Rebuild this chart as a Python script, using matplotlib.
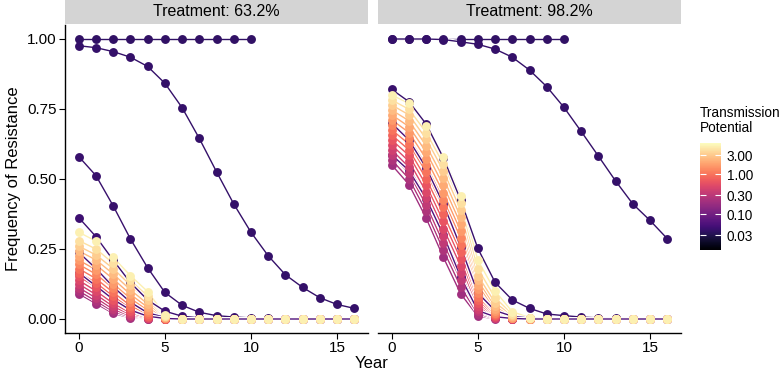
import matplotlib
matplotlib.use("Agg")
import matplotlib.pyplot as plt
from matplotlib.colors import LogNorm
import matplotlib.colorbar as mcolorbar

plt.rcParams['font.family'] = ['Liberation Sans', 'DejaVu Sans']

years = list(range(17))

# transmission potential for the bundle of lines (dark -> light)
bundle_tp = [0.2, 0.25, 0.32, 0.4, 0.5, 0.63, 0.8, 1.0, 1.26, 1.6, 2.0, 2.5, 3.2, 4.0, 5.0]

# ---- Treatment 63.2% ----
left_flat = [1.0, 1.0, 1.0, 1.0, 1.0, 1.0, 1.0, 1.0, 1.0, 1.0, 1.0]
left_slow = [0.976, 0.969, 0.955, 0.935, 0.902, 0.842, 0.755, 0.645, 0.526, 0.411, 0.310,
             0.226, 0.158, 0.113, 0.076, 0.052, 0.038]
left_mid = [0.580, 0.512, 0.404, 0.286, 0.183, 0.095, 0.049, 0.024, 0.012, 0.007, 0.004,
            0.002, 0.001, 0.0, 0.0, 0.0, 0.0]
left_low = [0.362, 0.294, 0.210, 0.130, 0.068, 0.028, 0.010, 0.004, 0.001, 0.0, 0.0,
            0.0, 0.0, 0.0, 0.0, 0.0, 0.0]
left_thin1 = [0.238, 0.180, 0.115, 0.060, 0.022, 0.006, 0.001, 0.0, 0.0, 0.0, 0.0,
              0.0, 0.0, 0.0, 0.0, 0.0, 0.0]
left_thin2 = [0.165, 0.118, 0.070, 0.032, 0.010, 0.002, 0.0, 0.0, 0.0, 0.0, 0.0,
              0.0, 0.0, 0.0, 0.0, 0.0, 0.0]
left_bundle = [
    [0.090, 0.055, 0.020, 0.004, 0.001, 0, 0, 0, 0, 0, 0, 0, 0, 0, 0, 0, 0],
    [0.100, 0.064, 0.027, 0.007, 0.001, 0, 0, 0, 0, 0, 0, 0, 0, 0, 0, 0, 0],
    [0.112, 0.075, 0.035, 0.011, 0.002, 0, 0, 0, 0, 0, 0, 0, 0, 0, 0, 0, 0],
    [0.125, 0.087, 0.045, 0.016, 0.003, 0, 0, 0, 0, 0, 0, 0, 0, 0, 0, 0, 0],
    [0.138, 0.100, 0.056, 0.022, 0.005, 0, 0, 0, 0, 0, 0, 0, 0, 0, 0, 0, 0],
    [0.152, 0.114, 0.068, 0.029, 0.008, 0.001, 0, 0, 0, 0, 0, 0, 0, 0, 0, 0, 0],
    [0.166, 0.129, 0.081, 0.038, 0.012, 0.001, 0, 0, 0, 0, 0, 0, 0, 0, 0, 0, 0],
    [0.180, 0.144, 0.095, 0.048, 0.017, 0.002, 0, 0, 0, 0, 0, 0, 0, 0, 0, 0, 0],
    [0.195, 0.160, 0.110, 0.060, 0.024, 0.003, 0, 0, 0, 0, 0, 0, 0, 0, 0, 0, 0],
    [0.210, 0.176, 0.126, 0.073, 0.032, 0.004, 0, 0, 0, 0, 0, 0, 0, 0, 0, 0, 0],
    [0.226, 0.193, 0.143, 0.088, 0.042, 0.006, 0, 0, 0, 0, 0, 0, 0, 0, 0, 0, 0],
    [0.243, 0.211, 0.161, 0.104, 0.054, 0.008, 0.001, 0, 0, 0, 0, 0, 0, 0, 0, 0, 0],
    [0.260, 0.229, 0.180, 0.121, 0.067, 0.010, 0.001, 0, 0, 0, 0, 0, 0, 0, 0, 0, 0],
    [0.280, 0.250, 0.199, 0.138, 0.082, 0.012, 0.001, 0, 0, 0, 0, 0, 0, 0, 0, 0, 0],
    [0.310, 0.278, 0.220, 0.155, 0.098, 0.015, 0.001, 0, 0, 0, 0, 0, 0, 0, 0, 0, 0],
]

# ---- Treatment 98.2% ----
right_flat = [1.0, 1.0, 1.0, 1.0, 1.0, 1.0, 1.0, 1.0, 1.0, 1.0, 1.0]
right_slow = [1.0, 1.0, 1.0, 0.998, 0.990, 0.981, 0.964, 0.935, 0.889, 0.830, 0.756,
              0.670, 0.582, 0.493, 0.411, 0.352, 0.287]
right_mid = [0.820, 0.776, 0.696, 0.575, 0.425, 0.252, 0.131, 0.068, 0.038, 0.018, 0.012,
             0.007, 0.004, 0.002, 0.001, 0.0, 0.0]
right_thin1 = [0.699, 0.639, 0.540, 0.410, 0.258, 0.093, 0.030, 0.010, 0.003, 0.001, 0.0,
               0.0, 0.0, 0.0, 0.0, 0.0, 0.0]
right_thin2 = [0.586, 0.530, 0.430, 0.300, 0.150, 0.030, 0.008, 0.002, 0.0, 0.0, 0.0,
               0.0, 0.0, 0.0, 0.0, 0.0, 0.0]
right_bundle = [
    [0.550, 0.480, 0.360, 0.220, 0.090, 0.010, 0.001, 0, 0, 0, 0, 0, 0, 0, 0, 0, 0],
    [0.568, 0.501, 0.384, 0.246, 0.115, 0.018, 0.002, 0, 0, 0, 0, 0, 0, 0, 0, 0, 0],
    [0.586, 0.521, 0.407, 0.271, 0.140, 0.027, 0.003, 0, 0, 0, 0, 0, 0, 0, 0, 0, 0],
    [0.604, 0.542, 0.431, 0.297, 0.165, 0.036, 0.005, 0.001, 0, 0, 0, 0, 0, 0, 0, 0, 0],
    [0.621, 0.563, 0.454, 0.323, 0.190, 0.046, 0.007, 0.001, 0, 0, 0, 0, 0, 0, 0, 0, 0],
    [0.639, 0.584, 0.478, 0.349, 0.215, 0.057, 0.010, 0.002, 0, 0, 0, 0, 0, 0, 0, 0, 0],
    [0.657, 0.604, 0.501, 0.374, 0.240, 0.068, 0.013, 0.002, 0, 0, 0, 0, 0, 0, 0, 0, 0],
    [0.675, 0.625, 0.525, 0.400, 0.265, 0.080, 0.017, 0.003, 0, 0, 0, 0, 0, 0, 0, 0, 0],
    [0.693, 0.646, 0.549, 0.426, 0.290, 0.093, 0.022, 0.004, 0.001, 0, 0, 0, 0, 0, 0, 0, 0],
    [0.711, 0.666, 0.572, 0.451, 0.315, 0.107, 0.028, 0.005, 0.001, 0, 0, 0, 0, 0, 0, 0, 0],
    [0.729, 0.687, 0.596, 0.477, 0.340, 0.122, 0.035, 0.007, 0.001, 0, 0, 0, 0, 0, 0, 0, 0],
    [0.746, 0.708, 0.619, 0.503, 0.365, 0.138, 0.045, 0.010, 0.002, 0, 0, 0, 0, 0, 0, 0, 0],
    [0.764, 0.729, 0.643, 0.529, 0.390, 0.155, 0.058, 0.013, 0.003, 0, 0, 0, 0, 0, 0, 0, 0],
    [0.782, 0.749, 0.666, 0.554, 0.415, 0.180, 0.076, 0.018, 0.003, 0, 0, 0, 0, 0, 0, 0, 0],
    [0.800, 0.770, 0.690, 0.580, 0.440, 0.210, 0.100, 0.026, 0.005, 0.001, 0, 0, 0, 0, 0, 0, 0],
]

left_specials = [(left_flat, 0.038), (left_slow, 0.04), (left_mid, 0.042),
                 (left_low, 0.045), (left_thin1, 0.055), (left_thin2, 0.06)]
right_specials = [(right_flat, 0.038), (right_slow, 0.04), (right_mid, 0.042),
                  (right_thin1, 0.055), (right_thin2, 0.06)]

cmap = plt.get_cmap('magma')
norm = LogNorm(vmin=0.0127, vmax=6.0)

fig = plt.figure(figsize=(7.8, 3.77), dpi=100)
W, H = 780.0, 377.0


def fx(px):
    return px / W


def fy(py):
    return 1 - py / H


panels = [
    (65, "Treatment: 63.2%", left_specials, left_bundle),
    (378, "Treatment: 98.2%", right_specials, right_bundle),
]

for i, (x0, title, specials, bundle) in enumerate(panels):
    ax = fig.add_axes([fx(x0), fy(333), fx(303), (333 - 25) / H])
    # lines: bundle first, then dark specials on top
    for vals, tp in list(zip(bundle, bundle_tp)) + specials:
        xs = years[:len(vals)]
        ax.plot(xs, vals, color='white', lw=2.6, solid_capstyle='butt', zorder=2)
        ax.plot(xs, vals, color=cmap(norm(tp)), lw=1.0, zorder=2)
    # points: specials first, bundle points on top
    for vals, tp in specials + list(zip(bundle, bundle_tp)):
        xs = years[:len(vals)]
        ax.plot(xs, vals, ls='none', marker='o', ms=6.4, mew=0,
                color=cmap(norm(tp)), zorder=3)
    ax.set_xlim(-0.8, 16.8)
    ax.set_ylim(-0.05, 1.05)
    ax.set_xticks([0, 5, 10, 15])
    ax.set_yticks([0, 0.25, 0.5, 0.75, 1.0])
    ax.set_yticklabels(['0.00', '0.25', '0.50', '0.75', '1.00'])
    for side in ['top', 'right']:
        ax.spines[side].set_visible(False)
    ax.spines['bottom'].set_linewidth(1.0)
    ax.spines['left'].set_linewidth(1.0)
    ax.tick_params(labelsize=11, length=4, width=0.8, colors='black', pad=2)
    if i == 1:
        ax.spines['left'].set_visible(False)
        ax.tick_params(axis='y', left=False, labelleft=False)
    else:
        ax.set_ylabel("Frequency of Resistance", fontsize=12, labelpad=4)

    # facet strip
    sax = fig.add_axes([fx(x0), fy(24), fx(303), 24 / H])
    sax.set_facecolor('#d4d4d4')
    sax.set_xticks([])
    sax.set_yticks([])
    for sp in sax.spines.values():
        sp.set_visible(False)
    sax.text(0.5, 0.5, title, ha='center', va='center', fontsize=11.5,
             transform=sax.transAxes)

fig.text(fx(372), fy(363), "Year", ha='center', va='center', fontsize=12)

# colour legend
cax = fig.add_axes([fx(700), fy(250), fx(21), 107 / H])
cb = mcolorbar.ColorbarBase(cax, cmap=cmap, norm=norm, orientation='vertical')
cb.outline.set_visible(False)
cb.set_ticks([0.03, 0.1, 0.3, 1.0, 3.0])
cb.set_ticklabels(['0.03', '0.10', '0.30', '1.00', '3.00'])
cax.minorticks_off()
cax.tick_params(which='both', direction='in', color='white', length=4, width=0.8,
                left=True, right=True, labelsize=9.8, pad=4)
fig.text(fx(700), fy(106), "Transmission\nPotential", ha='left', va='top',
         fontsize=9.8, linespacing=1.1)

fig.savefig('out.png', dpi=100)
